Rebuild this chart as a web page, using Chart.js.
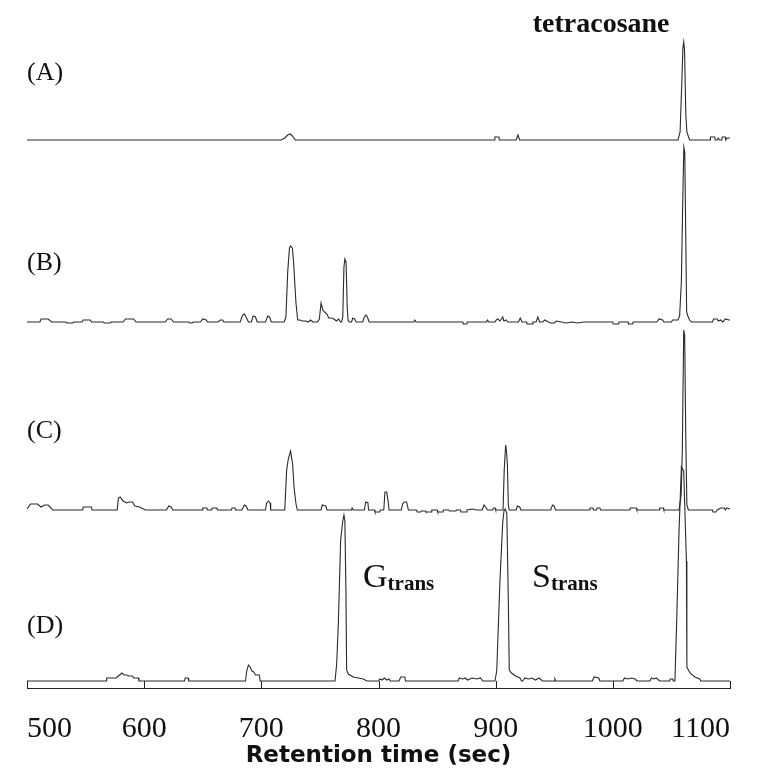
<!DOCTYPE html>
<html>
<head>
<meta charset="utf-8">
<script src="https://cdn.jsdelivr.net/npm/chart.js@4.4.1/dist/chart.umd.min.js"></script>
<style>
  html, body { margin: 0; padding: 0; background: #fff; }
</style>
</head>
<body>
<canvas id="chart" width="757" height="771"></canvas>
<script>
// [retention time (sec), detector response]
const traceA = [
  [500, 0], [717, 0], [720, 2], [722.5, 5], [724.5, 6], [726.5, 4], [729, 0],
  [899, 0], [899.3, 3], [902.8, 3], [903.1, 0], [917.5, 0], [919, 5], [920.5, 0],
  [1055.6, 0], [1057.4, 8], [1058.8, 55], [1059.8, 92], [1060.5, 98], [1061.2, 90], [1062.3, 25], [1063.2, 8], [1065.5, 0],
  [1083, 0], [1083.3, 3], [1087, 3], [1087.3, 0], [1089, 0], [1090, 2], [1091, 0],
  [1093, 0], [1093.3, 3], [1096, 3], [1096.3, 0], [1097.5, 2], [1100, 2]
];

const traceB = [
  [500, 0], [511, 0], [512, 3], [518, 3], [521, 0], [533, 0], [534, -1], [539, -1], [540, 0],
  [547, 0], [548, 2], [554, 2], [555, 0], [565, 0], [566, -1], [571, -1], [572, 0],
  [582, 0], [584, 3], [591, 3], [593, 0], [618, 0], [620, 3], [623, 3], [625, 0],
  [638, 0], [639, -1], [641, -1], [642, 0], [648, 0], [650, 3], [653, 2], [654, 0],
  [663, 0], [665, 2], [667, 2], [668, 0], [682, 0], [684, 7], [685.5, 8], [687, 5], [689, 0],
  [691.5, 0], [693, 6], [695, 5], [696.5, 0], [703.5, 0], [705.5, 6], [707, 5], [708.5, 0],
  [719.5, 0], [721, 5], [722.5, 50], [724, 74], [725, 76], [726.5, 74], [727.5, 60], [729.5, 20], [731, 2],
  [733, 2], [735, 1], [738, 1], [740, 0], [742, 2], [744, 0],
  [748, 0], [749.5, 3], [751, 19], [752.5, 12], [754, 10], [756, 8], [757.5, 4], [760, 4], [762, 3], [764, 1], [766, 3], [767.5, 0],
  [768.5, 0], [769.5, 5], [770.5, 55], [771.3, 63], [772.3, 60], [773.3, 15], [774, 2], [775, 0],
  [777, 0], [778, 4], [779.5, 3], [781, 0], [786.5, 0], [788, 5], [789.3, 7], [790.5, 5], [792, 0],
  [830, 0], [831, 2], [832, 0], [872, 0], [872.3, -2], [875.5, -2], [875.8, 0], [892, 0], [893, 2], [894, 0],
  [899.5, 0], [900.5, 2], [902, 3], [903.5, 1], [905, 3], [906, 5], [907, 1], [909, 2], [910.5, 0],
  [919.5, 0], [921, 4], [922.5, 0], [926.5, 0], [926.8, -2], [931.5, -2], [931.8, 0], [934.5, 0], [936, 5], [937.5, 0],
  [940, 0], [942, 2], [945, 0], [947, -1], [950, -1], [952, 1], [956, 0], [960, -1], [965, 0], [970, -1], [975, 0],
  [1000, 0], [1000.3, -2], [1005, -2], [1005.3, 0], [1013, 0], [1013.3, -2], [1017, -2], [1017.3, 0],
  [1037.5, 0], [1039.5, 3], [1042.5, 2], [1043.5, 0], [1050, 0], [1051, 2], [1055.5, 2],
  [1057, 6], [1058.5, 40], [1059.5, 110], [1060.6, 175], [1061.4, 170], [1062.3, 80], [1063, 10], [1064, 6], [1065.5, 2], [1067, 0],
  [1085, 0], [1086, 3], [1089, 3], [1090, 1], [1092, 2], [1094, 0], [1096, 3], [1099, 2], [1100, 2]
];

const traceC = [
  [500, 1], [503, 6], [509, 6], [512, 3], [515, 5], [518, 5], [522, 0],
  [547.5, 0], [548, 3], [555, 3], [555.5, 0],
  [577, 0], [578, 12], [579.5, 13], [582, 9], [585, 7], [587, 8], [590, 8], [592, 4], [596, 3], [601, 0],
  [619, 0], [621, 4], [623, 3], [624.5, 0], [649.5, 0], [650, 2], [653.5, 2], [654, 0],
  [657.5, 0], [658, 2], [662, 2], [662.5, 0], [674.5, 0], [675, 2], [677.5, 2], [678, 0],
  [683.5, 0], [685.5, 5], [687, 4], [688.5, 0], [703.5, 0], [704.5, 7], [706, 9], [707.5, 7], [708, 0],
  [720, 0], [721.6, 40], [723, 51], [725, 59], [726.7, 46], [727.9, 23], [729.6, 6], [730.7, 0],
  [751, 0], [752, 5], [755, 4], [756, 0], [777, 0], [777.5, 2], [778.5, 0],
  [788, 0], [789, 8], [791, 7], [791.5, 0], [796.5, 0], [797, -2], [801, -2], [801.5, 0],
  [804.5, 0], [805.5, 18], [807, 18], [808.3, 8], [809, 0], [819.5, 0], [820.5, 6], [822, 8], [824, 8], [825.5, 0],
  [832.5, 0], [833, -2], [836, -2], [836.5, -1], [840, -1], [840.5, -2], [845, -2], [845.5, 0],
  [850, 0], [850.5, -2], [855, -2], [855.5, 0], [860, 0], [860.5, -1], [866, -1], [866.5, 0],
  [870, 0], [870.5, -2], [875, -2], [875.5, 0], [880, 1], [884, 0],
  [888.5, 0], [890, 5], [891.5, 3], [893, 0], [897.5, 0], [898, 2], [899.5, 2], [900, 0],
  [906.3, 0], [907.3, 40], [908.5, 65], [909.3, 58], [910, 45], [910.8, 5], [911.5, 0],
  [917.5, 0], [918.5, 4], [920.5, 3], [921.5, 0], [947, 0], [948.5, 5], [950, 4], [951, 0],
  [980, 0], [980.5, 2], [983, 2], [983.5, 0], [986, 0], [986.5, 2], [989, 2], [989.5, 0],
  [1014.5, 0], [1015, 2], [1020, 2], [1020.5, 0], [1039.5, 0], [1040, 2], [1043, 2], [1043.5, 0],
  [1056.5, 0], [1058.3, 15], [1059.3, 60], [1060.5, 180], [1061.3, 175], [1062.3, 70], [1063.2, 5], [1064.5, 0],
  [1085, 0], [1085.5, -2], [1088, -2], [1089, 0], [1092, 2], [1095, 2], [1096, 0], [1097, 2], [1100, 1]
];

const traceD = [
  [500, 0], [567.5, 0], [568, 3], [576, 3], [578, 5], [581, 8], [583, 6], [585, 6], [587, 5], [590, 5], [591, 3], [595, 3], [595.5, 0],
  [634.5, 0], [635, 3], [637.5, 3], [638, 0],
  [686.5, 0], [687.5, 10], [689, 16], [690.5, 14], [692, 10], [693.5, 9], [695, 6], [698.3, 6], [699, 0],
  [762.9, 0], [764.3, 17], [765.7, 57], [767.7, 141], [769.4, 159], [770.5, 166], [771.3, 160], [772.2, 91], [772.8, 11], [774.2, 7], [778.5, 4], [787, 2], [790, 0],
  [800, 0], [801, 2], [803, 1], [805, 3], [807, 1], [809, 2], [810, 0], [817.5, 0], [819, 4], [822.5, 4], [823, 0],
  [868, 0], [869, 3], [872, 2], [874, 3], [876, 1], [880, 3], [884, 2], [887, 3], [889, 0],
  [899.4, 0], [900.9, 10], [903.7, 101], [906, 158], [907.1, 170], [908.2, 172], [909.5, 168], [910.8, 81], [911.6, 11], [913.5, 8], [917, 5], [920.8, 3], [922, 0],
  [923, 0], [925, 3], [928, 2], [931, 3], [934, 1], [937, 3], [940, 0], [950, 0], [950.6, 2], [951.2, 0],
  [982.5, 0], [984, 4], [988, 3], [989, 0], [1008.5, 0], [1010, 3], [1013, 2], [1016, 3], [1019, 2], [1020.6, 0],
  [1031.5, 0], [1033, 3], [1035, 2], [1037, 3], [1040, 0], [1048.5, 0], [1049, 2], [1051.3, 2], [1051.5, 0],
  [1053, 0], [1054.5, 60], [1056.5, 150], [1058.5, 214], [1060.5, 210], [1062.8, 120], [1063.2, 14], [1065.8, 8], [1070, 4], [1074.3, 2], [1075, 0],
  [1100, 0]
];

const xTicks = [500, 600, 700, 800, 900, 1000, 1100];
const panelNames = ['(A)', '(B)', '(C)', '(D)'];

// vertical stacking of the traces (y units = px above the axis line)
const baseline = [548, 366, 178, 7];
const panelLabelY = [615, 425, 257, 62];

const traces = [traceA, traceB, traceC, traceD];

const decorations = {
  id: 'decorations',
  afterDatasetsDraw(chart) {
    const { ctx, scales: { x, y } } = chart;
    ctx.save();
    // upward tick marks between axis line and trace D
    ctx.strokeStyle = '#222';
    ctx.lineWidth = 1;
    xTicks.forEach(t => {
      const px = Math.round(x.getPixelForValue(t)) + 0.5;
      ctx.beginPath();
      ctx.moveTo(px, y.getPixelForValue(0));
      ctx.lineTo(px, y.getPixelForValue(baseline[3]));
      ctx.stroke();
    });

    ctx.fillStyle = '#111';
    ctx.textBaseline = 'middle';
    ctx.textAlign = 'left';
    ctx.font = '26px "Liberation Serif"';
    panelNames.forEach((s, i) => {
      ctx.fillText(s, x.getPixelForValue(500), y.getPixelForValue(panelLabelY[i]));
    });

    ctx.textBaseline = 'alphabetic';
    ctx.textAlign = 'center';
    ctx.font = 'bold 28px "Liberation Serif"';
    ctx.fillText('tetracosane', x.getPixelForValue(990), y.getPixelForValue(656));

    // G_trans and S_trans
    ctx.textAlign = 'left';
    [['G', 786.8], ['S', 931]].forEach(([letter, t]) => {
      const px = x.getPixelForValue(t);
      const py = y.getPixelForValue(101);
      ctx.font = '34px "Liberation Serif"';
      ctx.fillText(letter, px, py);
      const w = ctx.measureText(letter).width;
      ctx.font = 'bold 21px "Liberation Serif"';
      ctx.fillText('trans', px + w, py + 3);
    });
    ctx.restore();
  }
};

new Chart(document.getElementById('chart'), {
  type: 'line',
  data: {
    datasets: traces.map((tr, i) => ({
      label: panelNames[i],
      data: tr.map(([t, v]) => ({ x: t, y: baseline[i] + v })),
      borderColor: '#2a2a2a',
      borderWidth: 1.1,
      pointRadius: 0,
      tension: 0,
      fill: false
    }))
  },
  options: {
    responsive: false,
    animation: false,
    devicePixelRatio: 1,
    layout: { padding: { left: 27, right: 27, top: 0, bottom: 0 } },
    plugins: { legend: { display: false }, tooltip: { enabled: false } },
    scales: {
      x: {
        type: 'linear',
        min: 500,
        max: 1100,
        afterFit(scale) {
          scale.height = 83;
          scale.paddingLeft = 0;
          scale.paddingRight = 0;
        },
        afterBuildTicks(scale) {
          scale.ticks = xTicks.map(v => ({ value: v }));
        },
        grid: { display: false, drawTicks: false },
        border: { display: true, color: '#222', width: 1 },
        ticks: {
          color: '#111',
          padding: 23,
          align: 'inner',
          maxRotation: 0,
          autoSkip: false,
          font: { family: 'Liberation Serif', size: 30 },
          callback: v => String(v)
        },
        title: {
          display: true,
          text: 'Retention time (sec)',
          color: '#111',
          font: { family: 'DejaVu Sans', size: 23, weight: 'bold', lineHeight: 1 },
          padding: { top: 0, bottom: 3 }
        }
      },
      y: {
        display: false,
        min: 0,
        max: 688
      }
    }
  },
  plugins: [decorations]
});
</script>
</body>
</html>
